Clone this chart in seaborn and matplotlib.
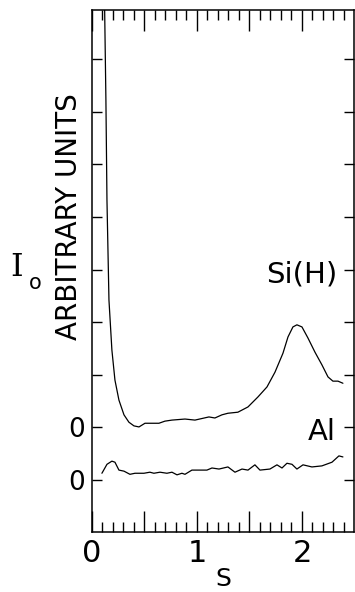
import numpy as np
import pandas as pd
import matplotlib
matplotlib.use("Agg")
import matplotlib.pyplot as plt
from matplotlib.ticker import MultipleLocator
import seaborn as sns

# Si(H) curve (offset by one division)
s_si = [0.11, 0.121, 0.133, 0.143, 0.162, 0.19, 0.219, 0.257, 0.305, 0.352, 0.40,
        0.448, 0.505, 0.571, 0.638, 0.695, 0.762, 0.886, 0.981, 1.114, 1.171,
        1.238, 1.295, 1.39, 1.486, 1.581, 1.667, 1.743, 1.819, 1.867, 1.914,
        1.952, 2.0, 2.057, 2.124, 2.19, 2.248, 2.295, 2.343, 2.39]
h_si = [10.5, 8.94, 7.22, 5.32, 3.42, 2.47, 1.90, 1.52, 1.24, 1.10, 1.03,
        1.01, 1.08, 1.08, 1.08, 1.12, 1.14, 1.16, 1.14, 1.20, 1.18,
        1.24, 1.27, 1.29, 1.39, 1.58, 1.77, 2.05, 2.41, 2.72, 2.91,
        2.95, 2.91, 2.70, 2.43, 2.19, 1.96, 1.88, 1.88, 1.84]

# Al curve
s_al = [0.095, 0.143, 0.19, 0.219, 0.257, 0.305, 0.362, 0.41, 0.495, 0.552, 0.59,
        0.648, 0.714, 0.762, 0.81, 0.857, 0.886, 0.952, 1.019, 1.095, 1.143,
        1.21, 1.295, 1.362, 1.429, 1.486, 1.552, 1.60, 1.695, 1.762, 1.81,
        1.857, 1.905, 1.952, 2.01, 2.095, 2.19, 2.286, 2.352, 2.39]
h_al = [0.13, 0.30, 0.36, 0.34, 0.19, 0.17, 0.11, 0.13, 0.13, 0.15, 0.13,
        0.15, 0.13, 0.15, 0.10, 0.13, 0.11, 0.19, 0.19, 0.19, 0.23,
        0.21, 0.25, 0.15, 0.21, 0.19, 0.29, 0.19, 0.21, 0.29, 0.23,
        0.32, 0.30, 0.21, 0.29, 0.25, 0.27, 0.34, 0.46, 0.44]

ytick_pos = list(range(9))
ytick_labels = ["0", "0", "", "", "", "", "", "", ""]

sns.set_style("ticks")
plt.rcParams["font.family"] = ["DejaVu Sans"]
plt.rcParams["text.color"] = "black"
plt.rcParams["axes.labelcolor"] = "black"
plt.rcParams["xtick.color"] = "black"
plt.rcParams["ytick.color"] = "black"

fig = plt.figure(figsize=(3.55, 5.92), dpi=100)
ax = fig.add_axes([0.259, 0.101, 0.738, 0.882])

sns.lineplot(x=s_si, y=h_si, ax=ax, color="black", linewidth=0.9)
sns.lineplot(x=s_al, y=h_al, ax=ax, color="black", linewidth=0.9)

ax.set_xlim(0, 2.495)
ax.set_ylim(-0.99, 8.93)

ax.xaxis.set_minor_locator(MultipleLocator(0.1))
ax.set_xticks([0, 0.5, 1, 1.5, 2])
ax.set_xticklabels(["0", "", "1", "", "2"])
ax.set_yticks(ytick_pos)
ax.set_yticklabels(ytick_labels)

ax.tick_params(axis="x", which="major", direction="in", length=15, width=1,
               top=True, bottom=True, labelsize=22, pad=5)
ax.tick_params(axis="x", which="minor", direction="in", length=7.5, width=1,
               top=True, bottom=True)
ax.tick_params(axis="y", which="major", direction="in", length=7.5, width=1,
               left=True, right=True, labelsize=19, pad=5)
for sp in ax.spines.values():
    sp.set_visible(True)
    sp.set_linewidth(1.1)
    sp.set_color("black")

ax.set_xlabel("")
ax.set_ylabel("ARBITRARY UNITS", fontsize=20)
ax.yaxis.set_label_coords(-0.035, 0.605)

# x-axis label "S", kept inside the figure
fig.text(0.5 * (0.259 + 0.997), 1.5 / 592, "S", fontsize=18,
         ha="center", va="bottom")

ax.text(2.0, 3.9, "Si(H)", fontsize=21, ha="center", va="center")
ax.text(2.19, 0.91, "Al", fontsize=21, ha="center", va="center")

fig.text(17 / 355, 1 - 268 / 592, "I", fontsize=23, ha="center", va="center",
         family="DejaVu Serif")
fig.text(35 / 355, 1 - 283 / 592, "o", fontsize=15, ha="center", va="center")

fig.savefig("out.png", dpi=100)
